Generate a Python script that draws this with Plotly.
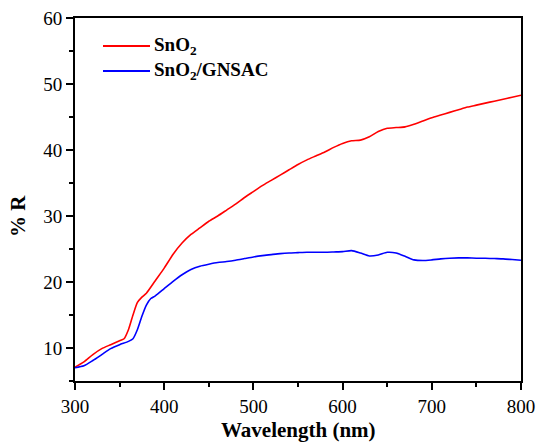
import plotly.graph_objects as go

# Wavelength grids (nm)
wl_sno2 = [300, 310, 320, 330, 340, 350, 355, 360, 365, 370, 375, 380, 390, 400,
           410, 420, 430, 440, 450, 460, 470, 480, 490, 500, 510, 520, 530, 540,
           550, 560, 570, 580, 590, 600, 610, 620, 630, 640, 650, 660, 670, 680,
           690, 700, 710, 720, 730, 740, 750, 760, 770, 780, 790, 800]
r_sno2 = [7.1, 7.9, 9.0, 9.9, 10.5, 11.1, 11.4, 12.8, 15.0, 16.9, 17.7, 18.3, 20.2, 22.1,
          24.2, 25.9, 27.2, 28.2, 29.2, 30.0, 30.9, 31.8, 32.8, 33.7, 34.6, 35.4, 36.2, 37.0,
          37.8, 38.5, 39.1, 39.7, 40.4, 41.0, 41.4, 41.5, 42.0, 42.8, 43.3, 43.4, 43.5, 43.9,
          44.4, 44.9, 45.3, 45.7, 46.1, 46.5, 46.8, 47.1, 47.4, 47.7, 48.0, 48.3]

wl_gnsac = [300, 310, 320, 330, 340, 350, 360, 365, 370, 375, 380, 385, 390, 400,
            410, 420, 430, 440, 450, 460, 470, 480, 490, 500, 510, 520, 530, 540,
            550, 560, 570, 580, 590, 600, 610, 620, 630, 640, 650, 660, 670, 680,
            690, 700, 710, 720, 730, 740, 750, 760, 770, 780, 790, 800]
r_gnsac = [7.0, 7.3, 8.1, 9.0, 9.9, 10.5, 11.0, 11.4, 12.8, 14.8, 16.5, 17.5, 17.9, 19.0,
           20.1, 21.1, 21.9, 22.4, 22.7, 22.95, 23.1, 23.3, 23.55, 23.8, 24.0, 24.15, 24.3, 24.4,
           24.45, 24.5, 24.5, 24.5, 24.55, 24.6, 24.75, 24.4, 23.95, 24.1, 24.5, 24.4, 23.9, 23.35,
           23.25, 23.35, 23.5, 23.6, 23.65, 23.65, 23.6, 23.6, 23.55, 23.5, 23.4, 23.3]

series_names = ["<b>SnO<sub>2</sub></b>", "<b>SnO<sub>2</sub>/GNSAC</b>"]
series_colors = ["#ff0000", "#0000ff"]

x_ticks = [300, 400, 500, 600, 700, 800]
y_ticks = [10, 20, 30, 40, 50, 60]

serif = "Liberation Serif, Times New Roman, serif"

W, H = 537, 442
L, R, T, B = 75, 16, 18, 61
pw, ph = W - L - R, H - T - B

fig = go.Figure()
for xs, ys, name, col in [(wl_sno2, r_sno2, series_names[0], series_colors[0]),
                          (wl_gnsac, r_gnsac, series_names[1], series_colors[1])]:
    fig.add_trace(go.Scatter(x=xs, y=ys, mode="lines", name=name, showlegend=False,
                             line=dict(color=col, width=1.6, shape="spline", smoothing=0.6)))

axis_common = dict(
    showgrid=False, zeroline=False, automargin=False,
    showline=True, linecolor="black", linewidth=2, mirror=True,
    ticks="outside", ticklen=7, tickwidth=2, tickcolor="black",
    tickfont=dict(family=serif, size=19, color="black"),
)

fig.update_xaxes(range=[300, 800], tickvals=x_ticks,
                 minor=dict(ticks="outside", ticklen=4, tickwidth=2, dtick=50, tickcolor="black"),
                 **axis_common)
fig.update_yaxes(range=[5, 60], tickvals=y_ticks,
                 minor=dict(ticks="outside", ticklen=4, tickwidth=2, dtick=5, tickcolor="black"),
                 **axis_common)

# axis titles
fig.add_annotation(text="<b>Wavelength (nm)</b>", xref="paper", yref="paper",
                   x=0.5, y=-(430 - T - ph) / ph, xanchor="center", yanchor="middle",
                   showarrow=False, font=dict(family=serif, size=21, color="black"))
fig.add_annotation(text="<b>% R</b>", textangle=-90, xref="paper", yref="paper",
                   x=-(L - 18) / pw, y=1 - (216 - T) / ph, xanchor="center", yanchor="middle",
                   showarrow=False, font=dict(family=serif, size=21, color="black"))

# legend drawn as line samples plus labels
leg_rows_px = [46, 71]
for ypx, name, col in zip(leg_rows_px, series_names, series_colors):
    yp = 1 - (ypx - T) / ph
    fig.add_shape(type="line", xref="paper", yref="paper",
                  x0=(103 - L) / pw, x1=(150 - L) / pw, y0=yp, y1=yp,
                  line=dict(color=col, width=2))
    fig.add_annotation(text=name, xref="paper", yref="paper",
                       x=(152 - L) / pw, y=yp, xanchor="left", yanchor="middle",
                       showarrow=False, font=dict(family=serif, size=19, color="black"))

fig.update_layout(
    width=W, height=H,
    margin=dict(l=L, r=R, t=T, b=B),
    plot_bgcolor="white", paper_bgcolor="white",
    showlegend=False,
)

fig.write_html("out.html")
